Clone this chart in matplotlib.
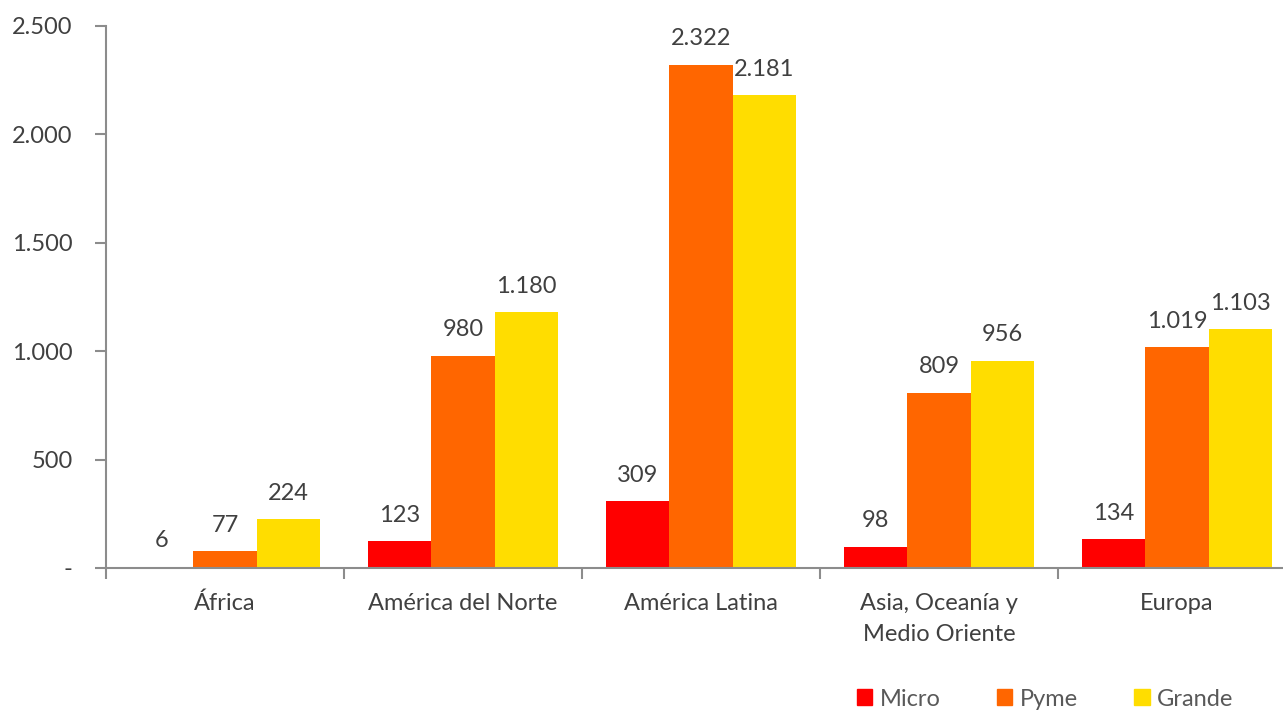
import matplotlib
matplotlib.use('Agg')
import numpy as np
import matplotlib.pyplot as plt
from matplotlib.ticker import FuncFormatter, FixedLocator
from matplotlib.patches import Patch

regions = ['África', 'América del Norte', 'América Latina',
           'Asia, Oceanía y\nMedio Oriente', 'Europa']
micro = [6, 123, 309, 98, 134]
pyme = [77, 980, 2322, 809, 1019]
grande = [224, 1180, 2181, 956, 1103]
series = ['Micro', 'Pyme', 'Grande']
colors = ['#FF0000', '#FF6600', '#FFDD00']

plt.rcParams['font.family'] = ['Lato', 'DejaVu Sans']
text_color = '#404040'
spine_color = '#8c8c8c'


def miles(v, pos=None):
    if v == 0:
        return '-'
    return f'{int(round(v)):,}'.replace(',', '.')


fig = plt.figure(figsize=(12.83, 7.13), dpi=100)
ax = fig.add_axes([106 / 1283, 1 - 568 / 713, 1190 / 1283, 542 / 713])

x = np.arange(len(regions))
w = 0.265
for i, (vals, name, c) in enumerate(zip([micro, pyme, grande], series, colors)):
    pos = x + (i - 1) * w
    ax.bar(pos, vals, width=w, color=c, label=name)
    for p, v in zip(pos, vals):
        ax.annotate(miles(v), (p, v), xytext=(0, 11), textcoords='offset points',
                    ha='center', va='bottom', fontsize=17, color=text_color)

ax.set_xlim(-0.5, len(regions) - 0.5)
ax.set_ylim(0, 2500)
ax.set_yticks(np.arange(0, 2501, 500))
ax.yaxis.set_major_formatter(FuncFormatter(miles))
ax.set_xticks(x)
ax.set_xticklabels(regions, fontsize=17, color=text_color, linespacing=1.6)
ax.xaxis.set_minor_locator(FixedLocator(np.arange(-0.5, len(regions), 1)))
ax.tick_params(axis='x', which='major', length=0, pad=18)
ax.tick_params(axis='x', which='minor', length=8, width=1.5, color=spine_color, direction='out')
ax.tick_params(axis='y', length=8, width=1.5, color=spine_color, direction='out',
               labelsize=17, labelcolor=text_color, pad=16)

for s in ['top', 'right']:
    ax.spines[s].set_visible(False)
for s in ['left', 'bottom']:
    ax.spines[s].set_color(spine_color)
    ax.spines[s].set_linewidth(1.5)

handles = [Patch(color=c, label=n) for c, n in zip(colors, series)]
fig.legend(handles=handles, loc='center', bbox_to_anchor=(1045 / 1283, 1 - 699 / 713),
           ncol=3, frameon=False, fontsize=17, handlelength=0.65, handleheight=0.65,
           handletextpad=0.3, columnspacing=2.4, labelcolor='#595959')

fig.savefig('out.png', dpi=100)
